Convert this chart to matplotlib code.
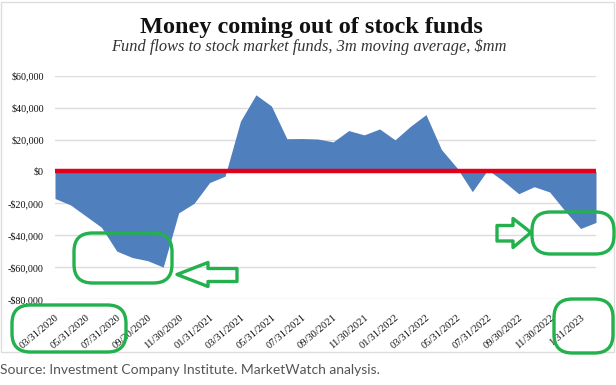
import matplotlib
matplotlib.use("Agg")
import matplotlib.pyplot as plt
import numpy as np
from matplotlib.patches import FancyBboxPatch, Polygon, Rectangle

# monthly 3m moving average fund flows, $mm (03/2020 .. 02/2023)
flows = [-17000, -21000, -28000, -35000, -50000, -54000, -56000, -60000,
         -26000, -20000, -7000, -3000, 31500, 48000, 41000, 20500,
         20600, 20300, 18500, 25600, 22900, 26600, 19800, 28300,
         35600, 13700, 2300, -12700, 1000, -6000, -14000, -9600,
         -12900, -24800, -35800, -32000]
tick_labels = ['03/31/2020', '05/31/2020', '07/31/2020', '09/30/2020', '11/30/2020',
               '01/31/2021', '03/31/2021', '05/31/2021', '07/31/2021', '09/30/2021',
               '11/30/2021', '01/31/2022', '03/31/2022', '05/31/2022', '07/31/2022',
               '09/30/2022', '11/30/2022', '1/31/2023']
y_ticks = [-80000, -60000, -40000, -20000, 0, 20000, 40000, 60000]

W, H = 616, 385
fig = plt.figure(figsize=(W / 100, H / 100), dpi=100, facecolor='white')


def px(x, y):
    return (x / W, 1 - y / H)


ax = fig.add_axes([55 / W, 1 - 299 / H, (596 - 55) / W, (299 - 75.7) / H])
x = np.arange(len(flows))
ax.fill_between(x, flows, 0, color='#4f7fbd', linewidth=0, zorder=2)
ax.axhline(0, color='#e3001b', linewidth=3.2, zorder=3)

ax.set_xlim(0, len(flows) - 1)
ax.set_ylim(-80000, 60000)
ax.set_yticks(y_ticks)
ax.set_yticklabels(['-$80,000', '-$60,000', '-$40,000', '-$20,000', '$0',
                    '$20,000', '$40,000', '$60,000'],
                   fontsize=7.3, family='Liberation Serif', color='#111111')
ax.set_xticks(x[::2])
ax.set_xticklabels(tick_labels, rotation=40, ha='right', rotation_mode='anchor',
                   fontsize=7.6, family='Liberation Serif', color='#111111')
ax.tick_params(length=0, pad=8)
ax.tick_params(axis='x', pad=10)
ax.grid(axis='y', color='#dcdcdc', linewidth=1, zorder=0)
ax.set_axisbelow(True)
for s in ax.spines.values():
    s.set_visible(False)

# chart frame
fig.patches.append(Rectangle(px(1, 352), 613 / W, 350 / H, transform=fig.transFigure,
                             fill=False, edgecolor='#dddddd', linewidth=1))

fig.text(311 / W, 1 - 27 / H, 'Money coming out of stock funds', ha='center', va='center',
         fontsize=17.5, fontweight='bold', family='Liberation Serif', color='#111111')
fig.text(309 / W, 1 - 47 / H, 'Fund flows to stock market funds, 3m moving average, $mm',
         ha='center', va='center', fontsize=11.8, style='italic', family='Liberation Serif',
         color='#333333')
fig.text(0, 1 - 370 / H, 'Source: Investment Company Institute. MarketWatch analysis.',
         ha='left', va='center', fontsize=10, family='Lato', color='#555555')

# green highlight markings
green = '#22b14c'
boxes = [(74, 233, 172, 283), (532, 212, 614, 254), (12, 305, 126, 352), (554, 299, 613, 353)]
for x0, y0, x1, y1 in boxes:
    fig.patches.append(FancyBboxPatch(px(x0, y1), (x1 - x0) / W, (y1 - y0) / H,
                                      boxstyle='round,pad=0,rounding_size=0.03',
                                      transform=fig.transFigure, fill=False,
                                      edgecolor=green, linewidth=2.4, mutation_aspect=W / H))
left_arrow = [(177, 274.5), (208, 262.5), (208, 268.5), (237, 268.5), (237, 281.5),
              (208, 281.5), (208, 286.5)]
right_arrow = [(531, 232.5), (513, 218.5), (513, 225.5), (497, 225.5), (497, 241),
               (513, 241), (513, 247.5)]
for pts in (left_arrow, right_arrow):
    fig.patches.append(Polygon([px(a, b) for a, b in pts], closed=True,
                               transform=fig.transFigure, fill=False,
                               edgecolor=green, linewidth=2.4, joinstyle='round'))

fig.savefig('out.png', dpi=100, facecolor='white')
